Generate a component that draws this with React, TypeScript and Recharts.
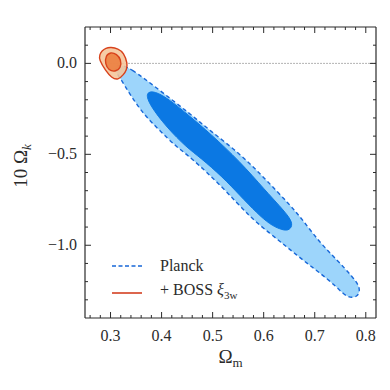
import React from "react";
import { ScatterChart, Scatter, XAxis, YAxis, ReferenceLine } from "recharts";

const FONT = "'Liberation Serif', 'DejaVu Serif', serif";
const INK = "#2b2b2b";

// contour vertices in data units (Omega_m, 10 Omega_k)
const planckOuterOm = [0.314, 0.337, 0.396, 0.455, 0.494, 0.553, 0.602, 0.652, 0.677, 0.711, 0.744, 0.775, 0.79, 0.785, 0.764, 0.744, 0.711, 0.677, 0.646, 0.612, 0.573, 0.52, 0.455, 0.43, 0.396, 0.363, 0.337, 0.318, 0.306];
const planckOuterOk = [-0.005, -0.02, -0.148, -0.275, -0.368, -0.495, -0.632, -0.78, -0.863, -0.989, -1.082, -1.176, -1.235, -1.285, -1.292, -1.231, -1.154, -1.082, -1.011, -0.934, -0.846, -0.681, -0.511, -0.462, -0.368, -0.275, -0.165, -0.077, -0.027];

const planckInnerOm = [0.368, 0.386, 0.416, 0.455, 0.495, 0.553, 0.603, 0.632, 0.652, 0.657, 0.648, 0.632, 0.612, 0.587, 0.553, 0.52, 0.475, 0.449, 0.41, 0.377];
const planckInnerOk = [-0.16, -0.15, -0.2, -0.29, -0.385, -0.538, -0.698, -0.786, -0.852, -0.893, -0.922, -0.912, -0.885, -0.824, -0.725, -0.626, -0.516, -0.462, -0.352, -0.231];

const bossOuterOm = [0.3006, 0.3149, 0.3259, 0.3336, 0.3314, 0.3259, 0.3149, 0.3017, 0.2907, 0.2775, 0.2786, 0.283, 0.2907];
const bossOuterOk = [0.089, 0.0812, 0.0581, -0.002, -0.0365, -0.0607, -0.0926, -0.0783, -0.0416, 0.0189, 0.0486, 0.0684, 0.0849];

const bossInnerOm = [0.3002, 0.3122, 0.3206, 0.3206, 0.3086, 0.2966, 0.2894, 0.2906];
const bossInnerOk = [0.0622, 0.0514, 0.0214, -0.0254, -0.047, -0.0374, -0.0038, 0.0442];

const xTicks = [0.26, 0.28, 0.3, 0.32, 0.34, 0.36, 0.38, 0.4, 0.42, 0.44, 0.46, 0.48, 0.5, 0.52, 0.54, 0.56, 0.58, 0.6, 0.62, 0.64, 0.66, 0.68, 0.7, 0.72, 0.74, 0.76, 0.78, 0.8];
const yTicks = [-1.3, -1.2, -1.1, -1.0, -0.9, -0.8, -0.7, -0.6, -0.5, -0.4, -0.3, -0.2, -0.1, 0.0, 0.1];

const toPoints = (xs: number[], ys: number[]) => xs.map((x, i) => ({ om: x, ok: ys[i] }));

const isMajorX = (v: number) => Math.abs(v * 10 - Math.round(v * 10)) < 1e-6;
const isMajorY = (v: number) => Math.abs(v * 2 - Math.round(v * 2)) < 1e-6;
const fmt = (v: number) => (v < -1e-9 ? "\u2212" : "") + Math.abs(v).toFixed(1);

const textStyle = { fontFamily: FONT };

const BottomTick = (p: any) => {
  const v = p.payload.value;
  const major = isMajorX(v);
  return (
    <g>
      <line x1={p.x} x2={p.x} y1={p.y} y2={p.y - (major ? 6 : 3)} stroke={INK} strokeWidth={1} />
      {major && (
        <text x={p.x} y={p.y + 23} textAnchor="middle" style={textStyle} fontSize={16} fill={INK}>
          {fmt(v)}
        </text>
      )}
    </g>
  );
};

const TopTick = (p: any) => {
  const major = isMajorX(p.payload.value);
  return <line x1={p.x} x2={p.x} y1={p.y} y2={p.y + (major ? 6 : 3)} stroke={INK} strokeWidth={1} />;
};

const LeftTick = (p: any) => {
  const v = p.payload.value;
  const major = isMajorY(v);
  return (
    <g>
      <line x1={p.x} x2={p.x + (major ? 6 : 3)} y1={p.y} y2={p.y} stroke={INK} strokeWidth={1} />
      {major && (
        <text x={p.x - 8} y={p.y + 5} textAnchor="end" style={textStyle} fontSize={16} fill={INK}>
          {fmt(v)}
        </text>
      )}
    </g>
  );
};

const RightTick = (p: any) => {
  const major = isMajorY(p.payload.value);
  return <line x1={p.x} x2={p.x - (major ? 6 : 3)} y1={p.y} y2={p.y} stroke={INK} strokeWidth={1} />;
};

const noDot = () => <g />;

export default function App() {
  const axisLine = { stroke: INK, strokeWidth: 1.2 };
  return (
    <div style={{ position: "absolute", left: 0, top: 0, width: 390, height: 390, background: "#fff" }}>
      <ScatterChart width={390} height={390} margin={{ top: 26, right: 13, bottom: 0, left: 0 }}>
        <XAxis
          type="number"
          dataKey="om"
          domain={[0.25, 0.82]}
          allowDataOverflow
          ticks={xTicks}
          interval={0}
          tickSize={0}
          tickMargin={0}
          tickLine={false}
          axisLine={axisLine}
          height={72}
          tick={(p: any) => <BottomTick {...p} />}
          label={{
            content: (lp: any) => {
              const vb = lp.viewBox;
              return (
                <text x={vb.x + vb.width / 2} y={363} textAnchor="middle" style={textStyle} fontSize={19} fill={INK}>
                  <tspan>Ω</tspan>
                  <tspan dy={4} fontSize={13}>m</tspan>
                </text>
              );
            },
          }}
        />
        <XAxis
          xAxisId="top"
          orientation="top"
          type="number"
          dataKey="om"
          domain={[0.25, 0.82]}
          allowDataOverflow
          ticks={xTicks}
          interval={0}
          tickSize={0}
          tickMargin={0}
          tickLine={false}
          axisLine={axisLine}
          height={1}
          tick={(p: any) => <TopTick {...p} />}
        />
        <YAxis
          type="number"
          dataKey="ok"
          domain={[-1.4, 0.2]}
          allowDataOverflow
          ticks={yTicks}
          interval={0}
          tickSize={0}
          tickMargin={0}
          tickLine={false}
          axisLine={axisLine}
          width={85}
          tick={(p: any) => <LeftTick {...p} />}
          label={{
            content: () => (
              <text
                x={0}
                y={0}
                transform="translate(27,166) rotate(-90)"
                textAnchor="middle"
                style={textStyle}
                fontSize={19}
                fill={INK}
              >
                <tspan>10 Ω</tspan>
                <tspan dy={4} fontSize={13} fontStyle="italic">k</tspan>
              </text>
            ),
          }}
        />
        <YAxis
          yAxisId="right"
          orientation="right"
          type="number"
          dataKey="ok"
          domain={[-1.4, 0.2]}
          allowDataOverflow
          ticks={yTicks}
          interval={0}
          tickSize={0}
          tickMargin={0}
          tickLine={false}
          axisLine={axisLine}
          width={1}
          tick={(p: any) => <RightTick {...p} />}
        />
        {/* invisible copy so the mirrored top/right frame axes get drawn */}
        <Scatter
          xAxisId="top"
          yAxisId="right"
          data={toPoints(planckOuterOm, planckOuterOk)}
          fill="none"
          shape={noDot}
          legendType="none"
          isAnimationActive={false}
        />
        <ReferenceLine
          segment={[{ x: 0.3, y: 0 }, { x: 0.82, y: 0 }]}
          stroke="#666"
          strokeWidth={1}
          strokeDasharray="1 2"
        />
        <Scatter
          data={toPoints(planckOuterOm, planckOuterOk)}
          fill="#1767d8"
          shape={noDot}
          line={{ fill: "#9dd5fb", stroke: "#1767d8", strokeWidth: 1.4, strokeDasharray: "4 3" }}
          lineJointType="basisClosed"
          isAnimationActive={false}
        />
        <Scatter
          data={toPoints(planckInnerOm, planckInnerOk)}
          fill="#0b78e3"
          shape={noDot}
          line={{ fill: "#0b78e3", stroke: "#0b78e3", strokeWidth: 1 }}
          lineJointType="basisClosed"
          isAnimationActive={false}
        />
        <Scatter
          data={toPoints(bossOuterOm, bossOuterOk)}
          fill="#d8421c"
          shape={noDot}
          line={{ fill: "#f5c59a", fillOpacity: 0.88, stroke: "#d8421c", strokeWidth: 1.4 }}
          lineJointType="basisClosed"
          isAnimationActive={false}
        />
        <Scatter
          data={toPoints(bossInnerOm, bossInnerOk)}
          fill="#d8421c"
          shape={noDot}
          line={{ fill: "#ec7d3e", fillOpacity: 0.88, stroke: "#d8421c", strokeWidth: 1.4 }}
          lineJointType="basisClosed"
          isAnimationActive={false}
        />
      </ScatterChart>
      <div style={{ position: "absolute", left: 110, top: 254, fontFamily: FONT, fontSize: 16, color: INK, lineHeight: "24px" }}>
        <div style={{ display: "flex", alignItems: "center" }}>
          <svg width={36} height={10}>
            <line x1={2} x2={32} y1={5} y2={5} stroke="#1767d8" strokeWidth={1.5} strokeDasharray="4 2.5" />
          </svg>
          <span style={{ marginLeft: 14 }}>Planck</span>
        </div>
        <div style={{ display: "flex", alignItems: "center" }}>
          <svg width={36} height={10}>
            <line x1={2} x2={32} y1={5} y2={5} stroke="#d8553a" strokeWidth={1.8} />
          </svg>
          <span style={{ marginLeft: 14 }}>
            + BOSS <i>ξ</i>
            <sub style={{ fontSize: 11 }}>3w</sub>
          </span>
        </div>
      </div>
    </div>
  );
}
